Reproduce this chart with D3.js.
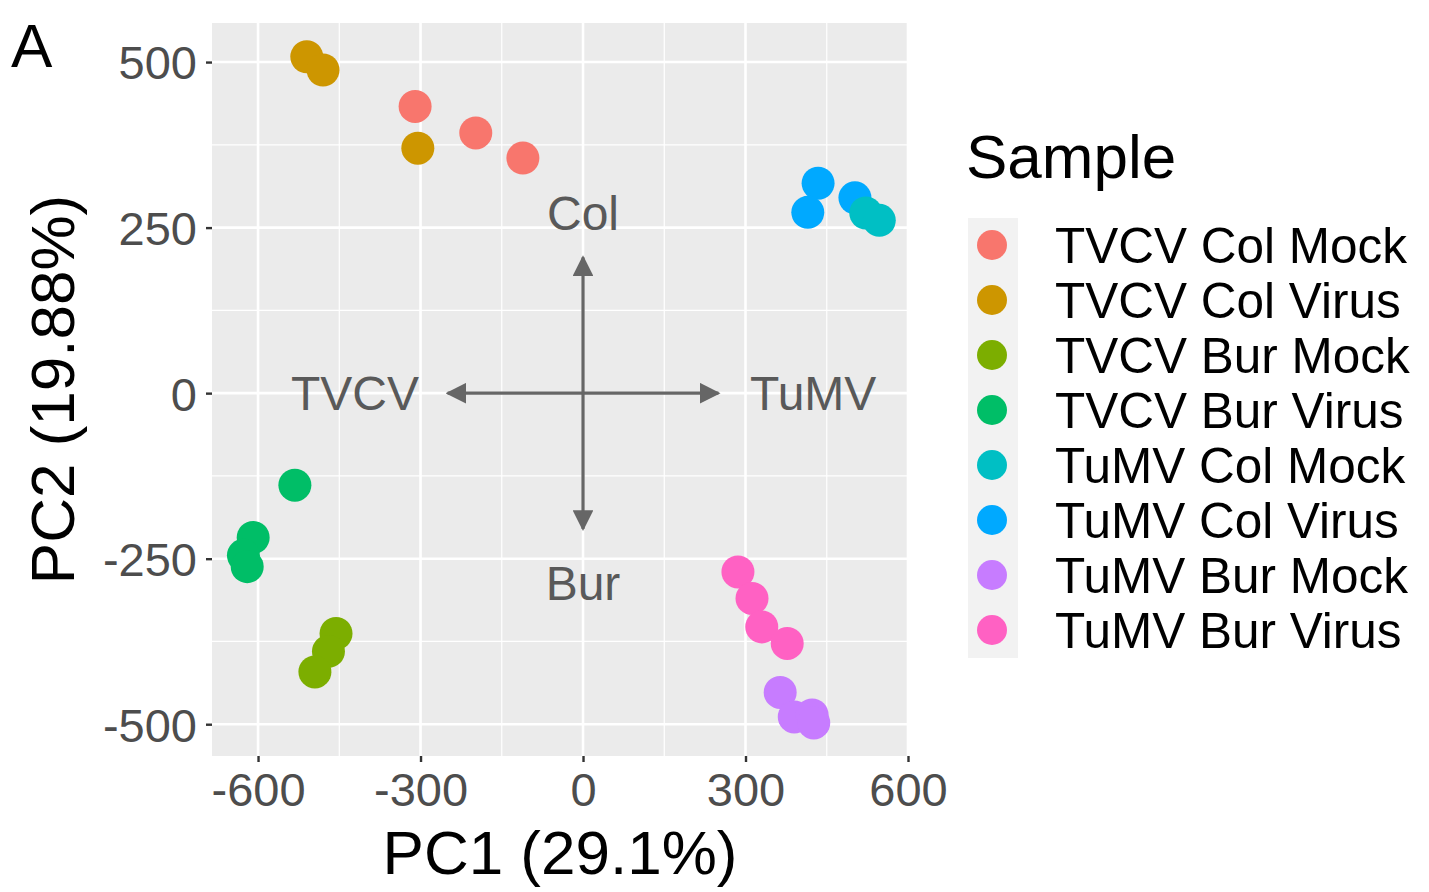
<!DOCTYPE html>
<html>
<head>
<meta charset="utf-8">
<script src="https://cdn.jsdelivr.net/npm/d3@7"></script>
<style>
  html, body { margin: 0; padding: 0; background: #ffffff; }
  svg { display: block; font-family: "Liberation Sans", Arial, Helvetica, sans-serif; }
</style>
</head>
<body>
<svg id="chart" width="1429" height="892"></svg>
<script>
// ---- data ----
const sampleNames = ["TVCV Col Mock", "TVCV Col Virus", "TVCV Bur Mock", "TVCV Bur Virus",
                     "TuMV Col Mock", "TuMV Col Virus", "TuMV Bur Mock", "TuMV Bur Virus"];
const sampleColors = ["#F8766D", "#CD9600", "#7CAE00", "#00BE67", "#00BFC4", "#00A9FF", "#C77CFF", "#FF61C3"];

// one entry per replicate point
const pointSample = [
  "TVCV Col Mock", "TVCV Col Mock", "TVCV Col Mock",
  "TVCV Col Virus", "TVCV Col Virus", "TVCV Col Virus",
  "TVCV Bur Mock", "TVCV Bur Mock", "TVCV Bur Mock",
  "TVCV Bur Virus", "TVCV Bur Virus", "TVCV Bur Virus", "TVCV Bur Virus",
  "TuMV Col Virus", "TuMV Col Virus", "TuMV Col Virus",
  "TuMV Col Mock", "TuMV Col Mock",
  "TuMV Bur Mock", "TuMV Bur Mock", "TuMV Bur Mock", "TuMV Bur Mock",
  "TuMV Bur Virus", "TuMV Bur Virus", "TuMV Bur Virus", "TuMV Bur Virus"
];
const pointPC1 = [
  -310, -198, -111,
  -510, -480, -305,
  -456, -470, -495,
  -532, -609, -627, -620,
  434, 415, 502,
  522, 547,
  364, 390, 423, 426,
  286, 312, 330, 377
];
const pointPC2 = [
  433, 393, 355,
  508, 488, 370,
  -363, -390, -421,
  -139, -218, -245, -262,
  317, 273, 295,
  272, 261,
  -452, -489, -486, -498,
  -270, -310, -353, -378
];

// axis ticks
const xTicks = [-600, -300, 0, 300, 600];
const yTicks = [-500, -250, 0, 250, 500];
const xMinor = [-450, -150, 150, 450];
const yMinor = [-375, -125, 125, 375];

// direction arrows (data units) and their labels
const arrowX = [250, -250, 0, 0];
const arrowY = [0, 0, 205, -205];
const dirLabels = ["TuMV", "TVCV", "Col", "Bur"];
const dirLabelX = [425, -421, 0, 0];
const dirLabelY = [0, 0, 272, -287];

// ---- layout ----
const svg = d3.select("#chart");
const panel = { left: 212, right: 908, top: 23, bottom: 756 };

const x = d3.scaleLinear().domain([-685, 600]).range([panel.left, panel.right]);
const y = d3.scaleLinear().domain([-548, 559]).range([panel.bottom, panel.top]);
const color = d3.scaleOrdinal().domain(sampleNames).range(sampleColors);

// panel background
svg.append("rect")
  .attr("x", panel.left).attr("y", panel.top)
  .attr("width", panel.right - panel.left).attr("height", panel.bottom - panel.top)
  .attr("fill", "#EBEBEB");

// minor grid
const grid = svg.append("g");
grid.selectAll("line.xminor").data(xMinor).join("line")
  .attr("x1", d => x(d)).attr("x2", d => x(d))
  .attr("y1", panel.top).attr("y2", panel.bottom)
  .attr("stroke", "#ffffff").attr("stroke-width", 1.2);
grid.selectAll("line.yminor").data(yMinor).join("line")
  .attr("y1", d => y(d)).attr("y2", d => y(d))
  .attr("x1", panel.left).attr("x2", panel.right)
  .attr("stroke", "#ffffff").attr("stroke-width", 1.2);
// major grid
grid.selectAll("line.xmajor").data(xTicks).join("line")
  .attr("x1", d => x(d)).attr("x2", d => x(d))
  .attr("y1", panel.top).attr("y2", panel.bottom)
  .attr("stroke", "#ffffff").attr("stroke-width", 2.6);
grid.selectAll("line.ymajor").data(yTicks).join("line")
  .attr("y1", d => y(d)).attr("y2", d => y(d))
  .attr("x1", panel.left).attr("x2", panel.right)
  .attr("stroke", "#ffffff").attr("stroke-width", 2.6);

// axes
const fmt = d => String(d);
const xAxis = svg.append("g")
  .attr("transform", `translate(0,${panel.bottom})`)
  .call(d3.axisBottom(x).tickValues(xTicks).tickSize(6).tickPadding(7).tickFormat(fmt));
const yAxis = svg.append("g")
  .attr("transform", `translate(${panel.left},0)`)
  .call(d3.axisLeft(y).tickValues(yTicks).tickSize(6).tickPadding(9).tickFormat(fmt));
[xAxis, yAxis].forEach(a => {
  a.select(".domain").remove();
  a.selectAll(".tick line").attr("stroke", "#333333").attr("stroke-width", 2.4);
  a.selectAll(".tick text")
    .attr("fill", "#4D4D4D")
    .style("font-size", "47px")
    .style("font-family", "'Liberation Sans', Arial, sans-serif");
});
xAxis.selectAll(".tick text").attr("dy", "0.78em");
yAxis.selectAll(".tick text").attr("dy", "0.36em");

// direction arrows
const defs = svg.append("defs");
defs.append("marker")
  .attr("id", "arrowhead")
  .attr("viewBox", "0 0 10 10")
  .attr("refX", 9).attr("refY", 5)
  .attr("markerWidth", 6.5).attr("markerHeight", 6.5)
  .attr("markerUnits", "strokeWidth")
  .attr("orient", "auto")
  .append("path")
  .attr("d", "M0,0 L10,5 L0,10 Z")
  .attr("fill", "#666666");

svg.append("g").selectAll("line").data(arrowX).join("line")
  .attr("x1", x(0)).attr("y1", y(0))
  .attr("x2", (d, i) => x(arrowX[i])).attr("y2", (d, i) => y(arrowY[i]))
  .attr("stroke", "#666666").attr("stroke-width", 3.2)
  .attr("marker-end", "url(#arrowhead)");

svg.append("g").selectAll("text").data(dirLabels).join("text")
  .attr("x", (d, i) => x(dirLabelX[i]))
  .attr("y", (d, i) => y(dirLabelY[i]))
  .attr("text-anchor", "middle")
  .attr("dy", "0.36em")
  .attr("fill", "#595959")
  .style("font-size", "48px")
  .text(d => d);

// points
svg.append("g").selectAll("circle").data(pointSample).join("circle")
  .attr("cx", (d, i) => x(pointPC1[i]))
  .attr("cy", (d, i) => y(pointPC2[i]))
  .attr("r", 16.5)
  .attr("fill", d => color(d));

// axis titles
svg.append("text")
  .attr("x", (panel.left + panel.right) / 2).attr("y", 874)
  .attr("text-anchor", "middle").attr("fill", "#000")
  .style("font-size", "62px")
  .text("PC1 (29.1%)");
svg.append("text")
  .attr("transform", `translate(74,${(panel.top + panel.bottom) / 2}) rotate(-90)`)
  .attr("text-anchor", "middle").attr("fill", "#000")
  .style("font-size", "62px")
  .text("PC2 (19.88%)");

// panel tag
svg.append("text")
  .attr("x", 11).attr("y", 67)
  .attr("fill", "#000")
  .style("font-size", "62px")
  .text("A");

// legend
const legend = svg.append("g");
legend.append("text")
  .attr("x", 966).attr("y", 178)
  .attr("fill", "#000")
  .style("font-size", "62px")
  .text("Sample");
const rowH = 55, row0 = 245;
legend.append("rect")
  .attr("x", 968).attr("y", row0 - 27)
  .attr("width", 50).attr("height", rowH * sampleNames.length)
  .attr("fill", "#F2F2F2");
const rows = legend.selectAll("g.row").data(sampleNames).join("g")
  .attr("transform", (d, i) => `translate(0,${row0 + i * rowH})`);
rows.append("circle")
  .attr("cx", 992).attr("cy", 0).attr("r", 15)
  .attr("fill", d => color(d));
rows.append("text")
  .attr("x", 1055).attr("y", 0).attr("dy", "0.36em")
  .attr("fill", "#000")
  .style("font-size", "49.5px")
  .text(d => d);
</script>
</body>
</html>
